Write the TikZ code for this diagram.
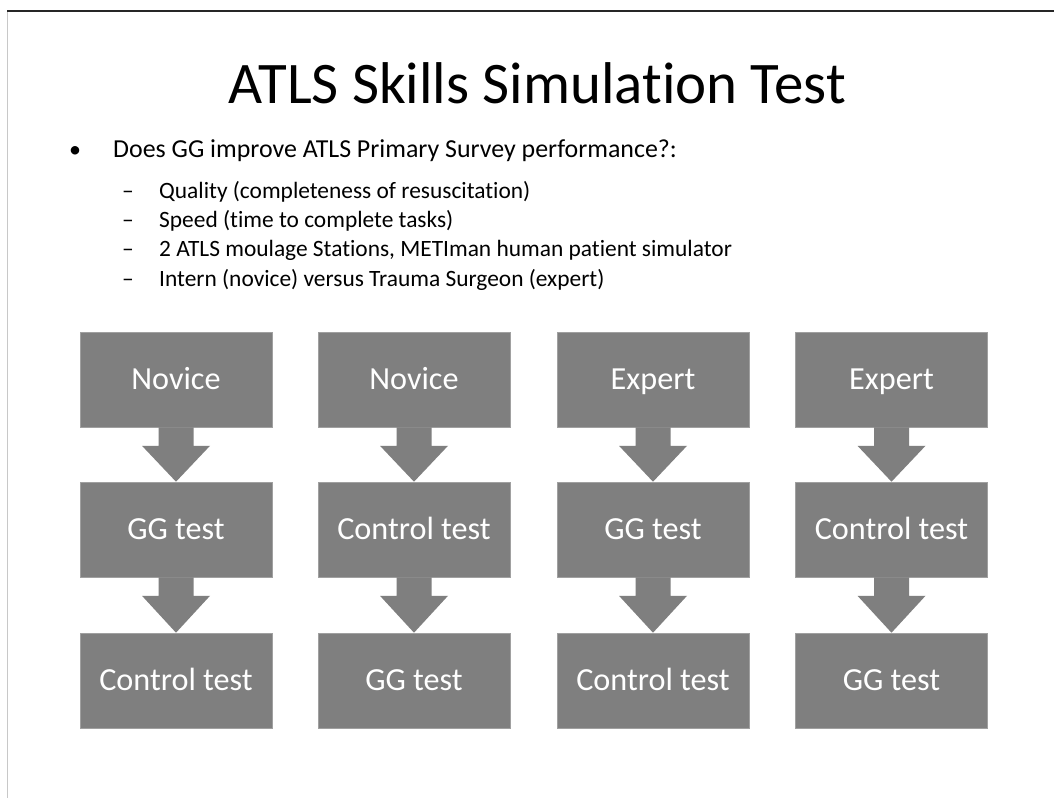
\documentclass[tikz,border=0pt]{standalone}
\usepackage{fontspec}
\setmainfont{Carlito}[RawFeature={-liga}]
\usetikzlibrary{calc}
\definecolor{boxgray}{RGB}{127,127,127}
\definecolor{boxedge}{RGB}{160,160,160}
\definecolor{frameline}{RGB}{200,200,200}
\begin{document}
\begin{tikzpicture}[x=1pt,y=-1pt,
  stagebox/.style={rectangle, fill=boxgray, draw=boxedge, line width=0.6pt,
    minimum width=192pt, minimum height=95pt, inner sep=0pt,
    text height=20.7pt, text depth=0pt,
    text=white, font=\fontsize{32.2}{36}\selectfont},
  bodytext/.style={anchor=base west, inner sep=0pt, font=\fontsize{25.9}{30}\selectfont},
  subtext/.style={anchor=base west, inner sep=0pt, font=\fontsize{23.4}{28}\selectfont},
  flowarrow/.style={fill=boxgray}]
\useasboundingbox (0,0) rectangle (1054,798);
\fill[white] (0,0) rectangle (1054,798);

% slide frame
\draw[frameline, line width=1pt] (7.5,11) -- (7.5,798);
\draw[black!85, line width=1.2pt] (7,11) -- (1054,11);

% title
\node[anchor=base, inner sep=0pt, font=\fontsize{58.9}{64}\selectfont] (title) at (537.5,103.5) {ATLS Skills Simulation Test};

% bullet list
\node[anchor=center, inner sep=0pt, font=\fontsize{24}{30}\selectfont] (dot) at (75,152.5) {•};
\node[bodytext] (q) at (113,157.3) {Does GG improve ATLS Primary Survey performance?:};
\foreach \y/\t [count=\i] in {198.3/{Quality (completeness of resuscitation)},
                   227.6/{Speed (time to complete tasks)},
                   256.9/{2 ATLS moulage Stations, METIman human patient simulator},
                   286.2/{Intern (novice) versus Trauma Surgeon (expert)}} {
  \node[subtext] (dash\i) at (122,\y) {–};
  \node[subtext] (item\i) at (159,\y) {\t};
}

% four study arms, three stages each
\foreach \x/\a/\b/\c [count=\k] in {176/Novice/GG test/Control test,
                            414/Novice/Control test/GG test,
                            653/Expert/GG test/Control test,
                            891.5/Expert/Control test/GG test} {
  \node[stagebox] (s\k a) at (\x,379.5) {\a};
  \node[stagebox] (s\k b) at (\x,529.5) {\b};
  \node[stagebox] (s\k c) at (\x,680.5) {\c};
  \foreach \u/\v in {a/b, b/c} {
    \fill[flowarrow]
      ($(s\k\u.south)+(-17.5,0)$) -- ($(s\k\u.south)+(17.5,0)$)
      -- ($(s\k\u.south)+(17.5,18.5)$) -- ($(s\k\u.south)+(34,18.5)$)
      -- (s\k\v.north)
      -- ($(s\k\u.south)+(-34,18.5)$) -- ($(s\k\u.south)+(-17.5,18.5)$) -- cycle;
  }
}
\end{tikzpicture}
\end{document}
